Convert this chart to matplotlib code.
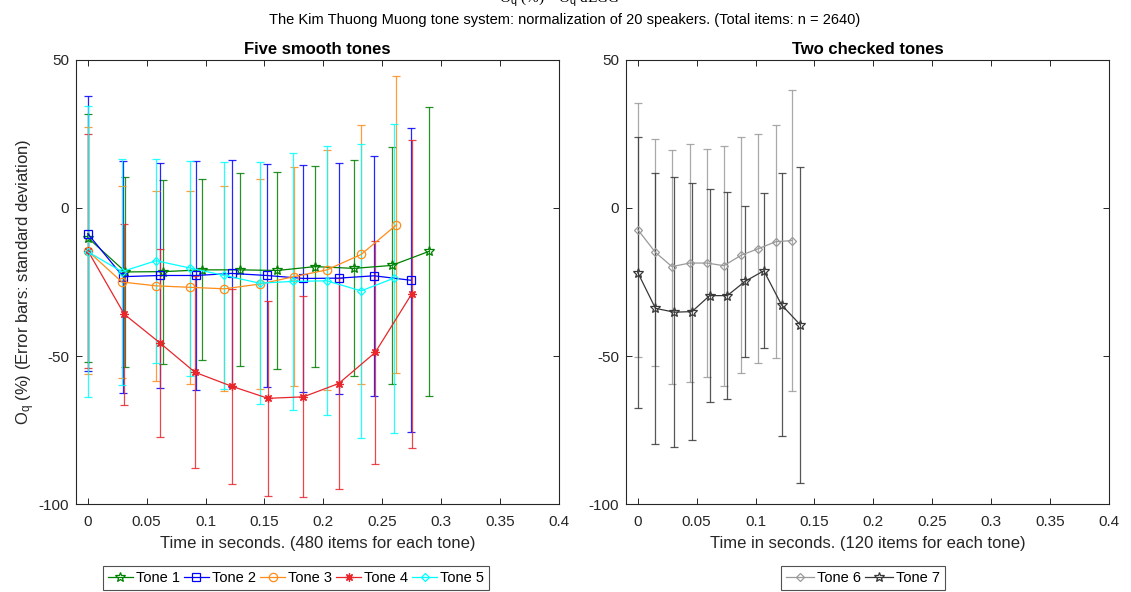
import matplotlib
matplotlib.use("Agg")
import matplotlib.pyplot as plt
from matplotlib.lines import Line2D

plt.rcParams['font.family'] = ['Liberation Sans', 'DejaVu Sans']
plt.rcParams['mathtext.fontset'] = 'custom'
plt.rcParams['mathtext.rm'] = 'Liberation Sans'
plt.rcParams['mathtext.it'] = 'Liberation Sans'
plt.rcParams['axes.unicode_minus'] = False

# ---------------- data ----------------
tone_names_left = ['Tone 1', 'Tone 2', 'Tone 3', 'Tone 4', 'Tone 5']
tone_names_right = ['Tone 6', 'Tone 7']

t1_time = [0, 0.032, 0.064, 0.097, 0.129, 0.161, 0.193, 0.226, 0.258, 0.29]
t1_mean = [-10.0, -21.6, -21.5, -20.9, -20.9, -21.1, -19.8, -20.4, -19.4, -14.6]
t1_std = [41.9, 32.2, 31.1, 30.6, 32.6, 33.3, 34.0, 36.5, 40.0, 48.8]

t2_time = [0, 0.030, 0.061, 0.092, 0.122, 0.152, 0.183, 0.213, 0.243, 0.274]
t2_mean = [-8.7, -23.2, -22.8, -22.8, -22.1, -22.8, -23.8, -23.7, -22.9, -24.4]
t2_std = [46.5, 39.2, 37.9, 38.7, 38.3, 37.8, 38.4, 39.0, 40.5, 51.4]

t3_time = [0, 0.029, 0.058, 0.087, 0.116, 0.146, 0.175, 0.203, 0.232, 0.262]
t3_mean = [-14.5, -25.0, -26.3, -26.8, -27.3, -25.7, -23.2, -20.9, -15.7, -5.7]
t3_std = [41.7, 32.5, 32.0, 32.6, 34.6, 35.5, 37.1, 40.5, 43.9, 50.2]

t4_time = [0, 0.031, 0.061, 0.091, 0.122, 0.153, 0.183, 0.213, 0.244, 0.275]
t4_mean = [-14.4, -35.9, -45.5, -55.5, -60.2, -64.3, -63.8, -59.3, -48.8, -29.0]
t4_std = [39.5, 30.5, 31.7, 32.5, 33.0, 33.0, 34.0, 35.5, 37.7, 52.0]

t5_time = [0, 0.029, 0.058, 0.087, 0.116, 0.146, 0.174, 0.203, 0.232, 0.26]
t5_mean = [-14.8, -21.5, -17.8, -20.3, -22.8, -25.4, -24.8, -24.6, -28.0, -23.7]
t5_std = [49.2, 38.2, 34.5, 36.3, 38.4, 40.8, 43.3, 45.5, 49.7, 52.2]

t6_time = [0, 0.015, 0.029, 0.044, 0.059, 0.073, 0.088, 0.102, 0.117, 0.131]
t6_mean = [-7.3, -15.0, -19.8, -18.6, -18.6, -19.5, -15.9, -13.8, -11.4, -11.0]
t6_std = [42.9, 38.3, 39.5, 40.1, 38.4, 40.6, 39.8, 38.7, 39.4, 50.8]

t7_time = [0, 0.015, 0.031, 0.046, 0.061, 0.076, 0.091, 0.107, 0.122, 0.138]
t7_mean = [-21.8, -33.9, -35.2, -35.0, -29.6, -29.6, -24.8, -21.2, -32.7, -39.5]
t7_std = [45.7, 45.7, 45.7, 43.5, 35.9, 35.0, 25.4, 26.2, 44.4, 53.3]

x_ticks = [0, 0.05, 0.1, 0.15, 0.2, 0.25, 0.3, 0.35, 0.4]
x_ticklabels = ['0', '0.05', '0.1', '0.15', '0.2', '0.25', '0.3', '0.35', '0.4']
y_ticks = [-100, -50, 0, 50]

# ---------------- styles ----------------
asterisk = (8, 2, 0)
left_series = [
    (t1_time, t1_mean, t1_std, '#008000', '*', tone_names_left[0]),
    (t2_time, t2_mean, t2_std, '#0000ff', 's', tone_names_left[1]),
    (t3_time, t3_mean, t3_std, '#ff8c1a', 'o', tone_names_left[2]),
    (t4_time, t4_mean, t4_std, '#e8262b', asterisk, tone_names_left[3]),
    (t5_time, t5_mean, t5_std, '#00ffff', 'D', tone_names_left[4]),
]
right_series = [
    (t6_time, t6_mean, t6_std, '#9a9a9a', 'D', tone_names_right[0]),
    (t7_time, t7_mean, t7_std, '#383838', '*', tone_names_right[1]),
]

fig = plt.figure(figsize=(11.31, 5.92), dpi=100)
W, H = 1131, 592
axL = fig.add_axes([76 / W, (H - 504) / H, 483 / W, 444 / H])
axR = fig.add_axes([626 / W, (H - 504) / H, 483 / W, 444 / H])


def draw(ax, series):
    handles = []
    for (x, m, s, c, mk, name) in series:
        ms = 6 if mk != 'D' else 4.5
        if mk == '*':
            ms = 7
        ax.errorbar(x, m, yerr=s, fmt='none', ecolor=c, elinewidth=0.9,
                    capsize=2.6, capthick=0.9, alpha=0.85, zorder=2)
        ax.plot(x, m, color=c, lw=0.9, marker=mk, ms=ms, mfc='none',
                mec=c, mew=0.9, zorder=3)
        handles.append(Line2D([0], [0], color=c, lw=0.9, marker=mk, ms=ms,
                              mfc='none', mec=c, mew=0.9, label=name))
    return handles


hL = draw(axL, left_series)
hR = draw(axR, right_series)

for ax in (axL, axR):
    ax.set_xlim(-0.01, 0.4)
    ax.set_ylim(-100, 50)
    ax.set_xticks(x_ticks)
    ax.set_xticklabels(x_ticklabels)
    ax.set_yticks(y_ticks)
    ax.tick_params(direction='in', top=True, right=True, labelsize=11,
                   length=4, width=0.7, colors='#262626', labelcolor='#262626')
    ax.tick_params(axis='x', pad=8)
    ax.tick_params(axis='y', pad=5)
    for sp in ax.spines.values():
        sp.set_linewidth(0.8)
        sp.set_color('#262626')

axL.set_title('Five smooth tones', fontsize=12, fontweight='bold', pad=4)
axR.set_title('Two checked tones', fontsize=12, fontweight='bold', pad=4)
axL.set_xlabel('Time in seconds. (480 items for each tone)', fontsize=12,
               color='#262626', labelpad=5)
axR.set_xlabel('Time in seconds. (120 items for each tone)', fontsize=12,
               color='#262626', labelpad=5)
axL.set_ylabel('O$_\\mathrm{q}$ (%) (Error bars: standard deviation)',
               fontsize=12, color='#262626', labelpad=1)

fig.text(565 / W, 1 - 20 / H,
         'The Kim Thuong Muong tone system: normalization of 20 speakers. (Total items: n = 2640)',
         ha='center', va='center', fontsize=10.5)
fig.text(560 / W, 1 - 3 / H, 'O$_\\mathrm{q}$ (%) \u2013 O$_\\mathrm{q}$ dEGG',
         ha='center', va='baseline', fontsize=11, family='Liberation Serif')

legL = fig.legend(handles=hL, loc='upper center', bbox_to_anchor=(296 / W, 1 - 566 / H),
                  ncol=5, fontsize=10.5, frameon=True, fancybox=False,
                  handlelength=1.7, handletextpad=0.2, columnspacing=0.3,
                  borderpad=0.35, borderaxespad=0)
legR = fig.legend(handles=hR, loc='upper center', bbox_to_anchor=(863 / W, 1 - 566 / H),
                  ncol=2, fontsize=10.5, frameon=True, fancybox=False,
                  handlelength=1.9, handletextpad=0.2, columnspacing=0.3,
                  borderpad=0.35, borderaxespad=0)
for lg in (legL, legR):
    lg.get_frame().set_edgecolor('#262626')
    lg.get_frame().set_linewidth(0.8)

fig.savefig('out.png', dpi=100)
